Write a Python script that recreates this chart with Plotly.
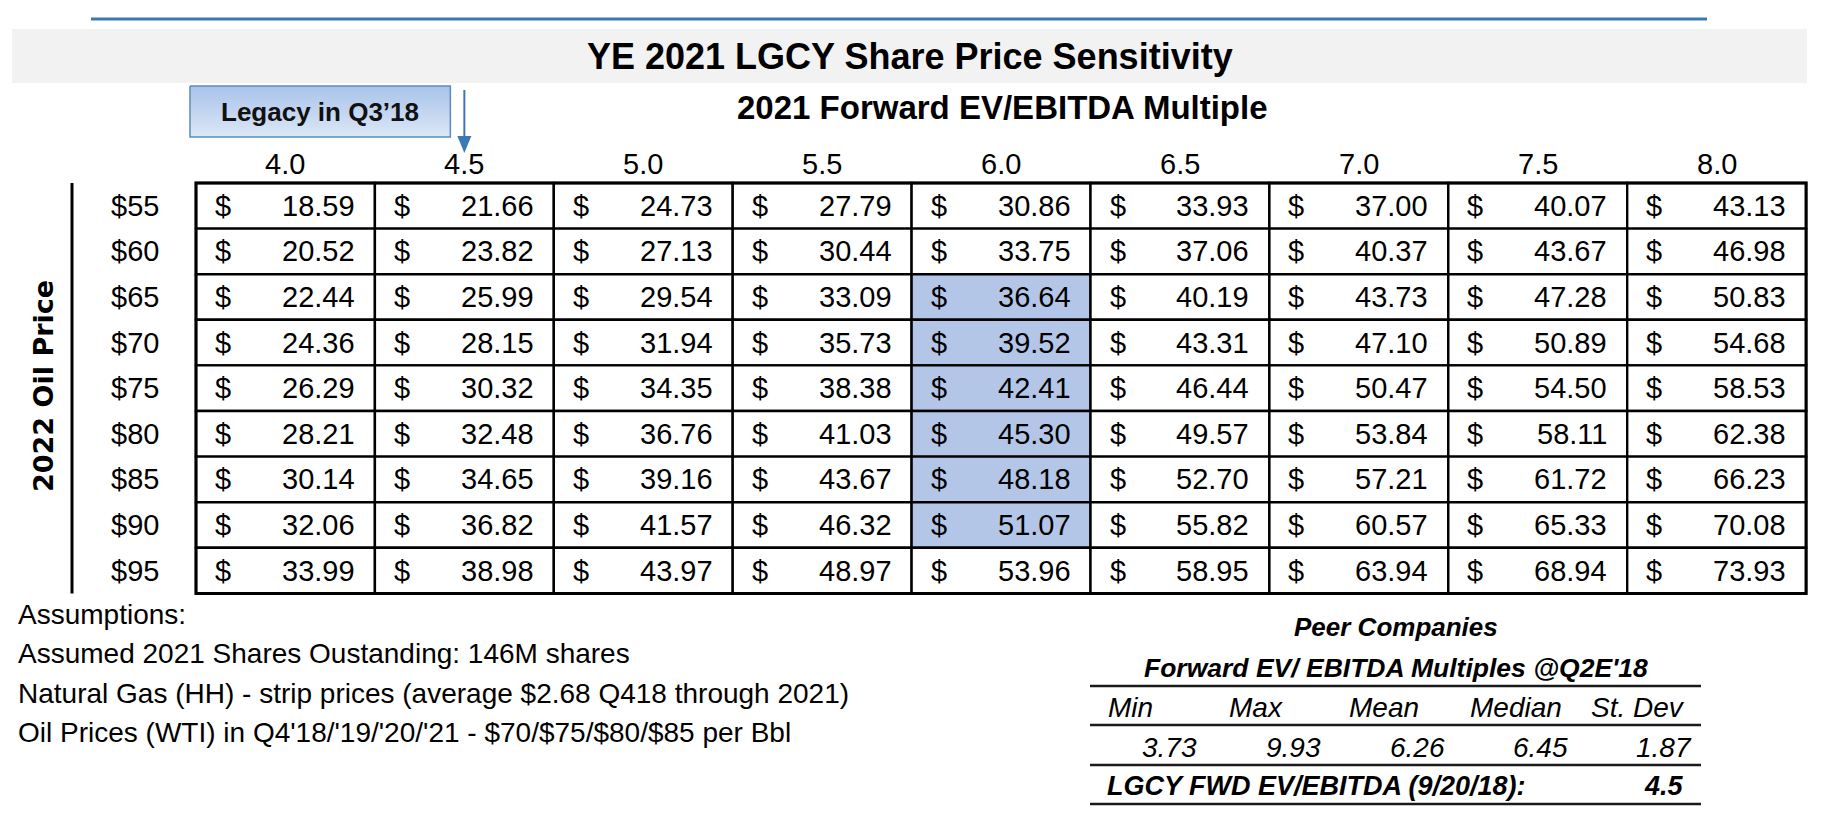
import plotly.graph_objects as go

# ---- data ----
title = "YE 2021 LGCY Share Price Sensitivity"
col_title = "2021 Forward EV/EBITDA Multiple"
row_title = "2022 Oil Price"

multiples = [4.0, 4.5, 5.0, 5.5, 6.0, 6.5, 7.0, 7.5, 8.0]
oil_prices = [55, 60, 65, 70, 75, 80, 85, 90, 95]

# share price by oil price (rows) and multiple (columns)
share_prices = [
    [18.59, 21.66, 24.73, 27.79, 30.86, 33.93, 37.00, 40.07, 43.13],
    [20.52, 23.82, 27.13, 30.44, 33.75, 37.06, 40.37, 43.67, 46.98],
    [22.44, 25.99, 29.54, 33.09, 36.64, 40.19, 43.73, 47.28, 50.83],
    [24.36, 28.15, 31.94, 35.73, 39.52, 43.31, 47.10, 50.89, 54.68],
    [26.29, 30.32, 34.35, 38.38, 42.41, 46.44, 50.47, 54.50, 58.53],
    [28.21, 32.48, 36.76, 41.03, 45.30, 49.57, 53.84, 58.11, 62.38],
    [30.14, 34.65, 39.16, 43.67, 48.18, 52.70, 57.21, 61.72, 66.23],
    [32.06, 36.82, 41.57, 46.32, 51.07, 55.82, 60.57, 65.33, 70.08],
    [33.99, 38.98, 43.97, 48.97, 53.96, 58.95, 63.94, 68.94, 73.93],
]
highlight_multiple = 6.0
highlight_oil = [65, 70, 75, 80, 85, 90]

callout_text = "Legacy in Q3\u201918"
callout_multiple = 4.5

assumptions = [
    "Assumptions:",
    "Assumed 2021 Shares Oustanding: 146M shares",
    "Natural Gas (HH) - strip prices (average $2.68 Q418 through 2021)",
    "Oil Prices (WTI) in Q4'18/'19/'20/'21 - $70/$75/$80/$85 per Bbl",
]

peer_title = ["Peer Companies", "Forward EV/ EBITDA Multiples @Q2E'18"]
peer_stats = ["Min", "Max", "Mean", "Median", "St. Dev"]
peer_values = [3.73, 9.93, 6.26, 6.45, 1.87]
lgcy_label = "LGCY FWD EV/EBITDA (9/20/18):"
lgcy_multiple = 4.5

# ---- layout (pixel grid) ----
W, H = 1841, 814
tbl_left, tbl_top = 196, 183
col_w, row_h = 178.9, 45.6
peer_left, peer_col_w = 1090, 122.2
peer_lines = [686, 725, 765, 804]

FONT = "Liberation Sans, Arial, sans-serif"
BLUE = "#3b79b4"
HL = "#b4c6e7"

fig = go.Figure()
shapes = []
notes = []


def text(x, y, s, size=29, anchor="center", bold=False, italic=False, angle=0, family=FONT, color="black"):
    if bold:
        s = f"<b>{s}</b>"
    if italic:
        s = f"<i>{s}</i>"
    notes.append(dict(x=x, y=y, text=s, showarrow=False, xanchor=anchor, yanchor="middle",
                      textangle=angle, font=dict(family=family, size=size, color=color)))


# top rule and title band
shapes.append(dict(type="line", x0=91, x1=1707, y0=19, y1=19, line=dict(color=BLUE, width=3)))
shapes.append(dict(type="rect", x0=12, x1=1807, y0=29, y1=83, fillcolor="#f2f2f2", line_width=0, layer="below"))
text(910, 56, title, size=36, bold=True)

# callout box (gradient fill) and arrow
ci = multiples.index(callout_multiple)
ax = tbl_left + (ci + 0.5) * col_w
bx0, bx1, by0, by1 = 190, ax - 14, 86, 137
fig.add_trace(go.Scatter(
    x=[bx0, bx1, bx1, bx0, bx0], y=[by0, by0, by1, by1, by0],
    mode="lines", fill="toself",
    fillgradient=dict(type="vertical", colorscale=[[0, "#dce7f6"], [1, "#a8c3ea"]]),
    line=dict(color="#5b8ac6", width=1.5), hoverinfo="skip",
))
text((bx0 + bx1) / 2, 112, callout_text, size=26, bold=True, color="#111111")
shapes.append(dict(type="line", x0=ax, x1=ax, y0=90, y1=138, line=dict(color=BLUE, width=2)))
shapes.append(dict(type="path", path=f"M {ax-7} 136 L {ax+7} 136 L {ax} 153 Z",
                   fillcolor=BLUE, line_width=0))

# column title and column headers
text(1002, 107, col_title, size=33, bold=True)
for j, m in enumerate(multiples):
    text(tbl_left + (j + 0.5) * col_w, 164, f"{m:.1f}")

# row title, rule and row labels
text(43, 386, row_title, size=27, bold=True, angle=-90, family="DejaVu Sans, sans-serif")
shapes.append(dict(type="line", x0=72, x1=72, y0=tbl_top, y1=tbl_top + len(oil_prices) * row_h,
                   line=dict(color="black", width=3)))

# table cells
for i, oil in enumerate(oil_prices):
    yc = tbl_top + (i + 0.5) * row_h
    text(135, yc, f"${oil}")
    for j, m in enumerate(multiples):
        x0 = tbl_left + j * col_w
        fill = HL if (m == highlight_multiple and oil in highlight_oil) else "white"
        shapes.append(dict(type="rect", x0=x0, x1=x0 + col_w, y0=tbl_top + i * row_h,
                           y1=tbl_top + (i + 1) * row_h, fillcolor=fill,
                           line=dict(color="black", width=2.4), layer="below"))
        text(x0 + 17, yc, "$", anchor="left")
        text(x0 + col_w - 18, yc, f"{share_prices[i][j]:.2f}", anchor="right")

# outer table border
shapes.append(dict(type="rect", x0=tbl_left, x1=tbl_left + len(multiples) * col_w, y0=tbl_top,
                   y1=tbl_top + len(oil_prices) * row_h, line=dict(color="black", width=3)))

# assumptions
for k, s in enumerate(assumptions):
    text(16, 614 + k * 39.5, s, size=28, anchor="left")

# peer table
peer_right = peer_left + len(peer_stats) * peer_col_w
peer_mid = (peer_left + peer_right) / 2
text(peer_mid, 627, peer_title[0], size=26, bold=True, italic=True)
text(peer_mid, 668, peer_title[1], size=26.5, bold=True, italic=True)
for y in peer_lines:
    shapes.append(dict(type="line", x0=peer_left, x1=peer_right, y0=y, y1=y,
                       line=dict(color="#1a1a1a", width=2.5)))
for k, (lab, val) in enumerate(zip(peer_stats, peer_values)):
    x0 = peer_left + k * peer_col_w
    text(x0 + 16 - 1.5 * k, 707, lab, size=28, italic=True, anchor="left")
    text(x0 + peer_col_w - 13 + 1.5 * k, 747, f"{val:.2f}", size=28, italic=True, anchor="right")
text(peer_left + 15, 786, lgcy_label, size=27, bold=True, italic=True, anchor="left")
text(peer_right - 15, 786, f"{lgcy_multiple:.1f}", size=27, bold=True, italic=True, anchor="right")

fig.update_layout(
    width=W, height=H,
    margin=dict(l=0, r=0, t=0, b=0),
    paper_bgcolor="white", plot_bgcolor="white",
    xaxis=dict(range=[0, W], visible=False, fixedrange=True),
    yaxis=dict(range=[H, 0], visible=False, fixedrange=True),
    shapes=shapes, annotations=notes, showlegend=False,
)

fig.write_html("out.html", config={"displayModeBar": False},
               post_script="document.body.style.margin='0';")
